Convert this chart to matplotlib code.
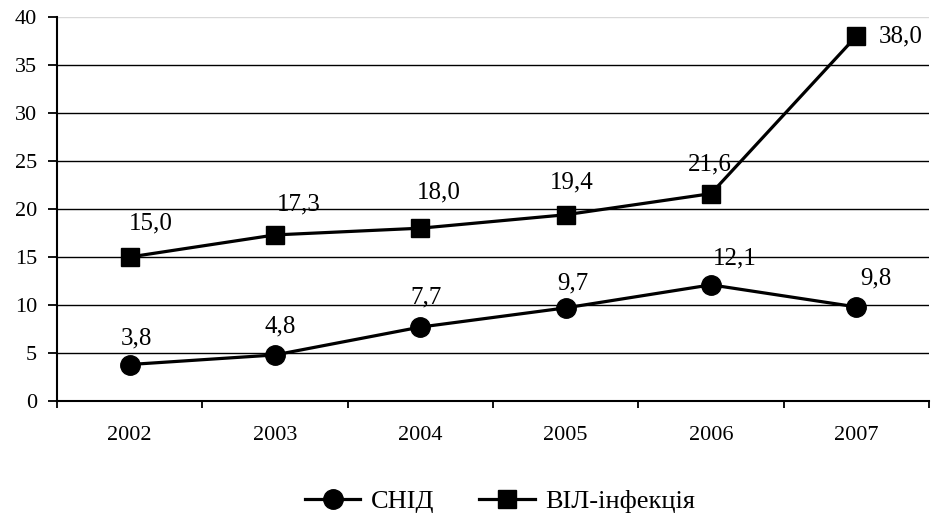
import matplotlib
matplotlib.use('Agg')
import matplotlib.pyplot as plt
import numpy as np

# --- data ---
years = ['2002', '2003', '2004', '2005', '2006', '2007']
snid = [3.8, 4.8, 7.7, 9.7, 12.1, 9.8]
vil = [15.0, 17.3, 18.0, 19.4, 21.6, 38.0]

# label offsets in pixels (dx, dy), hand-placed like the original
snid_offsets = [(7, 26), (5, 28), (6, 30), (7, 24), (24, 26), (20, 28)]
vil_offsets = [(21, 34), (24, 30), (18, 36), (6, 32), (-1, 29), (44, 0)]

plt.rcParams['font.family'] = ['Liberation Serif', 'DejaVu Serif']

W, H = 931, 520
fig = plt.figure(figsize=(W / 100, H / 100), dpi=100)
ax = fig.add_axes([57 / W, 1 - 401 / H, 872 / W, 384 / H])

x = np.arange(len(years))
ax.plot(x, snid, color='black', lw=2.3, marker='o', ms=14, label='СНІД', zorder=3)
ax.plot(x, vil, color='black', lw=2.3, marker='s', ms=13, label='ВІЛ-інфекція', zorder=3)

def fmt(v):
    return f'{v:.1f}'.replace('.', ',')

for series, offsets in [(snid, snid_offsets), (vil, vil_offsets)]:
    for xi, v, off in zip(x, series, offsets):
        ax.annotate(fmt(v), (xi, v), xytext=off, textcoords='offset pixels',
                    ha='center', va='center', fontsize=18, zorder=4)

ax.set_xlim(-0.5, len(years) - 0.5)
ax.set_ylim(0, 40)
ax.set_yticks(range(0, 41, 5))
ax.tick_params(axis='y', labelsize=16, length=6.5, width=1.3, direction='out', pad=8)

# category labels centered, tick marks between categories
ax.set_xticks(x)
ax.set_xticklabels(years, fontsize=16)
ax.set_xticks(np.arange(-0.5, len(years), 1), minor=True)
ax.tick_params(axis='x', which='major', length=0, pad=18)
ax.tick_params(axis='x', which='minor', length=5, width=1.3, direction='out')

# horizontal gridlines, top one light grey
for v in range(5, 40, 5):
    ax.axhline(v, color='black', lw=1.0, zorder=1)
ax.axhline(40, color='#d9d9d9', lw=1.0, zorder=1)

for s in ['top', 'right']:
    ax.spines[s].set_visible(False)
ax.spines['left'].set_linewidth(1.5)
ax.spines['bottom'].set_linewidth(1.5)

fig.legend(loc='center', bbox_to_anchor=(500 / W, 1 - 501 / H), ncol=2, frameon=False,
           fontsize=19, handlelength=2.1, columnspacing=1.7, handletextpad=0.4)

fig.savefig('out.png', dpi=100)
